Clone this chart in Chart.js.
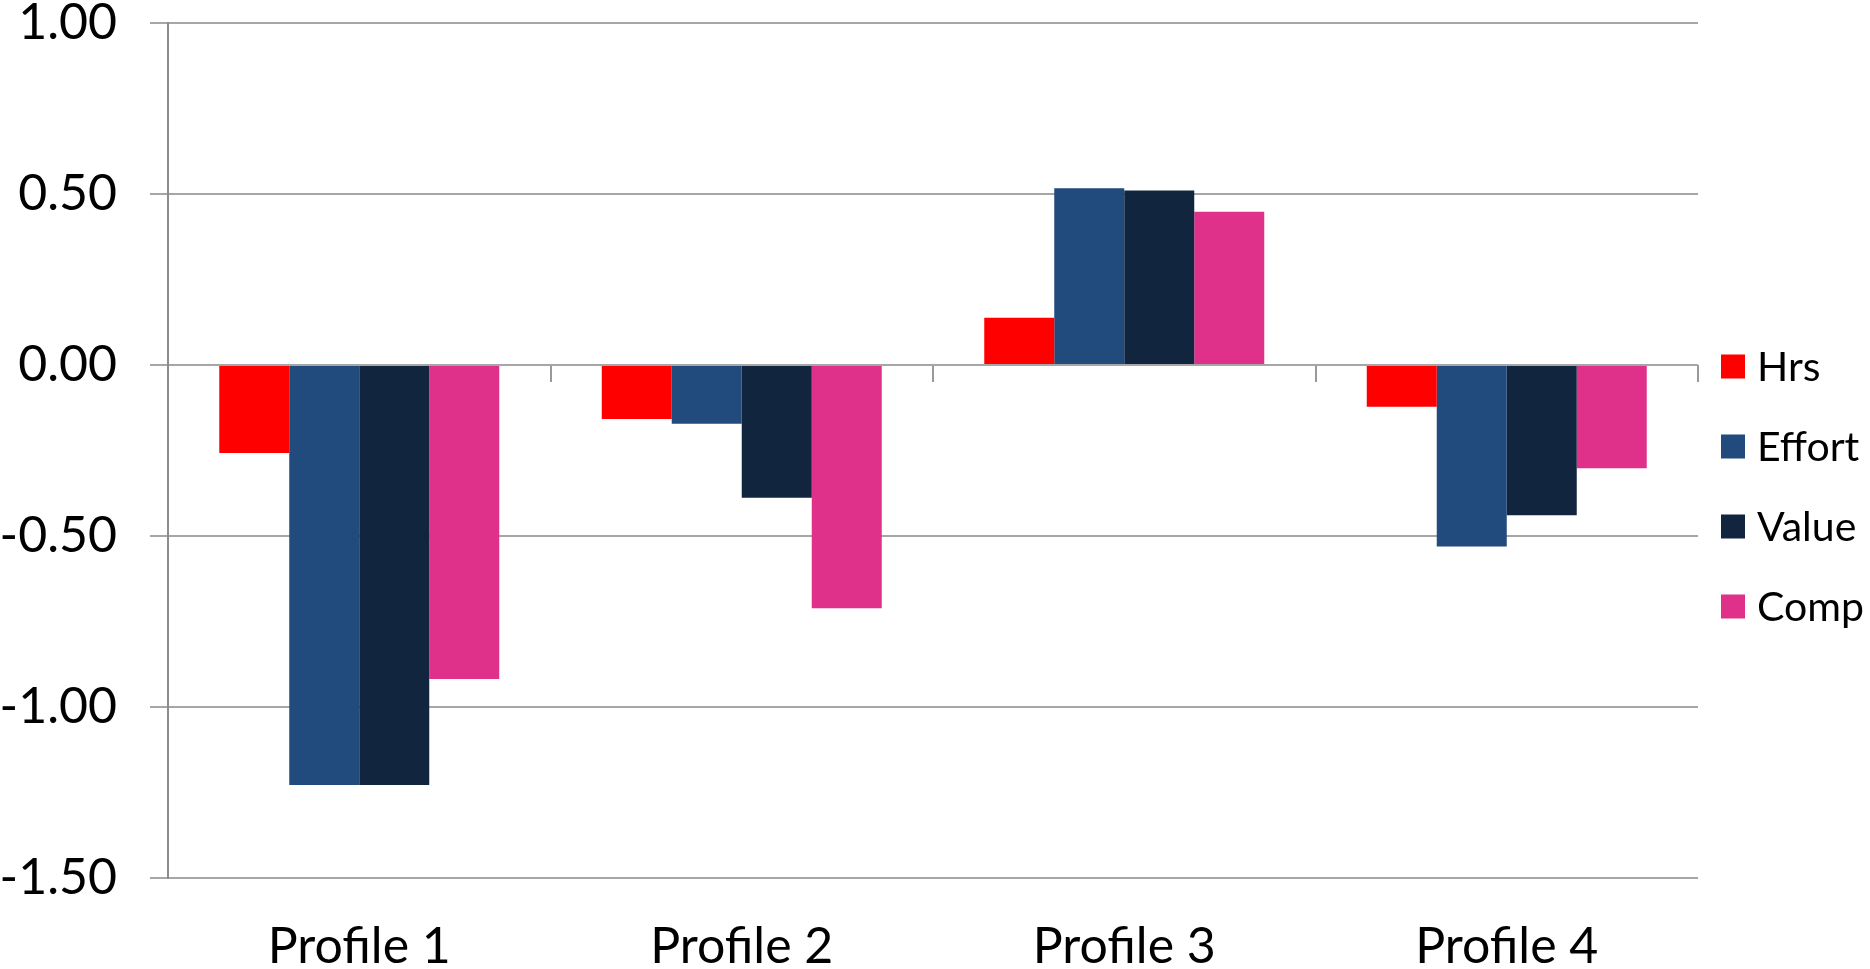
<!DOCTYPE html>
<html>
<head>
<meta charset="utf-8">
<script src="https://cdn.jsdelivr.net/npm/chart.js@4.4.1/dist/chart.umd.min.js"></script>
<style>
  html, body { margin: 0; padding: 0; background: #ffffff; }
  #wrap { position: relative; width: 1870px; height: 969px; }
</style>
</head>
<body>
<div id="wrap"><canvas id="chart"></canvas></div>
<script>
// ---- data ----
const categories = ['Profile 1', 'Profile 2', 'Profile 3', 'Profile 4'];
const seriesNames = ['Hrs', 'Effort', 'Value', 'Comp'];
const hrsValues    = [-0.257, -0.158, 0.138, -0.122];
const effortValues = [-1.228, -0.172, 0.517, -0.531];
const valueValues  = [-1.228, -0.388, 0.510, -0.439];
const compValues   = [-0.918, -0.711, 0.448, -0.302];
const yTickValues  = [-1.5, -1.0, -0.5, 0.0, 0.5, 1.0];

const seriesColors = ['#FF0000', '#214A7D', '#12253F', '#E0318A'];
const FONT = 'Lato';
const AXIS_FONT_SIZE = 50;
const LEGEND_FONT_SIZE = 41;

const sideLegend = {
  id: 'sideLegend',
  afterDraw(chart) {
    const ctx = chart.ctx;
    const ds = chart.data.datasets;
    const box = 24, gap = 80;
    const x0 = chart.chartArea.right + 23;
    const cy0 = chart.height / 2 + 2 - (ds.length - 1) * gap / 2;
    ctx.save();
    ctx.font = LEGEND_FONT_SIZE + 'px ' + FONT;
    ctx.textBaseline = 'middle';
    ctx.textAlign = 'left';
    ds.forEach((d, i) => {
      const cy = cy0 + i * gap;
      ctx.fillStyle = d.backgroundColor;
      ctx.fillRect(x0, cy - box / 2, box, box);
      ctx.fillStyle = '#000000';
      ctx.fillText(d.label, x0 + box + 12, cy + 1);
    });
    ctx.restore();
  }
};

function build() {
  const seriesData = [hrsValues, effortValues, valueValues, compValues];
  const datasets = seriesNames.map((name, i) => ({
    label: name,
    data: seriesData[i],
    backgroundColor: seriesColors[i],
    borderWidth: 0,
    categoryPercentage: 0.732,
    barPercentage: 1.0
  }));

  new Chart(document.getElementById('chart'), {
    type: 'bar',
    data: { labels: categories, datasets },
    plugins: [sideLegend],
    options: {
      responsive: true,
      maintainAspectRatio: false,
      animation: false,
      devicePixelRatio: 1,
      layout: { padding: { left: 0, right: 172, top: 23, bottom: 0 } },
      plugins: {
        legend: { display: false },
        tooltip: { enabled: false }
      },
      scales: {
        x: {
          type: 'category',
          position: 'bottom',
          offset: true,
          grid: { display: false, drawTicks: false, tickLength: 0 },
          border: { display: false },
          ticks: {
            color: '#000000',
            padding: 44,
            font: { family: FONT, size: AXIS_FONT_SIZE, lineHeight: 1.0 }
          },
          afterFit(scale) { scale.height = 91; }
        },
        xZero: {
          type: 'category',
          axis: 'x',
          labels: categories,
          position: { y: 0 },
          offset: true,
          grid: {
            offset: true,
            display: true,
            drawOnChartArea: false,
            drawTicks: true,
            tickLength: 17,
            color: '#9a9a9a',
            lineWidth: 2
          },
          border: { display: false },
          ticks: { display: false },
          afterFit(scale) { scale.height = 0; }
        },
        y: {
          min: -1.5,
          max: 1.0,
          afterBuildTicks(scale) {
            scale.ticks = yTickValues.map(v => ({ value: v }));
          },
          afterFit(scale) {
            scale.width = 168;
            scale.paddingTop = 0;
            scale.paddingBottom = 0;
          },
          grid: {
            color: '#a6a6a6',
            lineWidth: 2,
            drawTicks: true,
            tickLength: 18
          },
          border: { display: true, color: '#8c8c8c', width: 2 },
          ticks: {
            color: '#000000',
            padding: 33,
            font: { family: FONT, size: AXIS_FONT_SIZE, lineHeight: 1.0 },
            callback: (v) => Number(v).toFixed(2)
          }
        }
      }
    }
  });
}

const ready = (document.fonts && document.fonts.load)
  ? Promise.all([document.fonts.load(AXIS_FONT_SIZE + 'px ' + FONT), document.fonts.load(LEGEND_FONT_SIZE + 'px ' + FONT)]).catch(() => {})
  : Promise.resolve();
ready.then(build);
</script>
</body>
</html>
